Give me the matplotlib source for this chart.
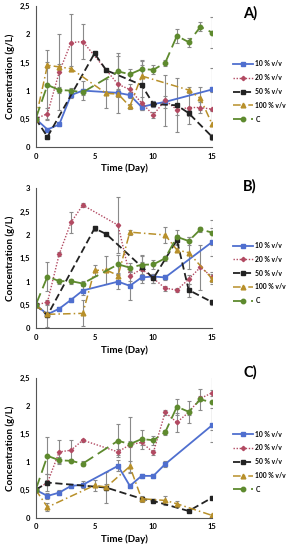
import matplotlib
matplotlib.use('Agg')
import matplotlib.pyplot as plt
from matplotlib.ticker import FuncFormatter, MultipleLocator

plt.rcParams['font.family'] = ['Lato', 'DejaVu Sans']
plt.rcParams['font.weight'] = 'bold'

LABELS = ['10 % v/v', '20 % v/v', '50 % v/v', '100 % v/v', 'C']

# ---- Panel A ----
A_10_days = [0, 1, 2, 3, 4, 7, 8, 9, 10, 11, 15]
A_10 = [0.5, 0.31, 0.40, 0.92, 1.0, 0.96, 0.92, 0.71, 0.76, 0.80, 1.02]
A_10_err = [0.02, 0.03, 0.03, 0.05, 0.17, 0.05, 0.05, 0.05, 0.05, 0.1, 0.38]
A_20_days = [0, 1, 2, 3, 4, 7, 8, 9, 10, 11, 12, 13, 14, 15]
A_20 = [0.5, 0.59, 1.33, 1.85, 1.87, 1.11, 1.02, 0.78, 0.57, 0.83, 0.66, 0.70, 0.70, 0.67]
A_20_err = [0.02, 0.1, 0.68, 0.5, 0.31, 0.5, 0.1, 0.1, 0.05, 0.45, 0.1, 0.3, 0.1, 0.3]
A_50_days = [0, 1, 5, 6, 9, 10, 12, 13, 15]
A_50 = [0.5, 0.18, 1.66, 1.36, 1.10, 0.76, 0.74, 0.60, 0.18]
A_50_err = [0.02, 0.03, 0.03, 0.03, 0.45, 0.05, 0.48, 0.05, 0.05]
A_100_days = [0, 1, 2, 3, 6, 7, 8, 9, 13, 14, 15]
A_100 = [0.5, 1.45, 1.42, 1.39, 0.95, 0.94, 0.72, 1.26, 1.01, 0.86, 0.40]
A_100_err = [0.02, 0.05, 0.05, 0.05, 0.25, 0.05, 0.05, 0.2, 0.05, 0.2, 0.25]
A_C_days = [0, 1, 2, 3, 4, 7, 8, 9, 10, 11, 12, 13, 14, 15]
A_C = [0.5, 1.10, 1.01, 1.0, 0.97, 1.34, 1.29, 1.38, 1.37, 1.49, 1.97, 1.86, 2.13, 2.03]
A_C_err = [0.02, 0.62, 0.05, 0.05, 0.05, 0.32, 0.1, 0.15, 0.08, 0.05, 0.13, 0.08, 0.08, 0.28]

# ---- Panel B ----
B_10_days = [0, 1, 2, 3, 4, 7, 8, 9, 10, 11, 15]
B_10 = [0.5, 0.30, 0.42, 0.61, 0.81, 1.0, 0.91, 1.09, 1.11, 1.09, 1.85]
B_10_err = [0.02, 0.03, 0.04, 0.04, 0.1, 0.15, 0.3, 0.05, 0.05, 0.05, 0.3]
B_20_days = [0, 1, 2, 3, 4, 7, 8, 9, 10, 11, 12, 13, 14, 15]
B_20 = [0.5, 0.56, 1.59, 2.27, 2.64, 2.21, 1.12, 1.27, 1.07, 0.86, 0.82, 1.05, 1.31, 1.10]
B_20_err = [0.02, 0.05, 0.05, 0.23, 0.05, 0.6, 0.1, 0.3, 0.1, 0.05, 0.05, 0.1, 0.48, 0.1]
B_50_days = [0, 1, 5, 6, 9, 10, 12, 13, 15]
B_50 = [0.5, 0.28, 2.14, 2.02, 1.32, 1.07, 1.89, 0.82, 0.56]
B_50_err = [0.02, 0.25, 0.05, 0.03, 0.1, 0.1, 0.1, 0.14, 0.05]
B_100_days = [0, 1, 4, 5, 6, 7, 8, 11, 12, 13, 15]
B_100 = [0.5, 0.30, 0.32, 1.24, 1.25, 1.13, 2.06, 2.0, 1.68, 1.62, 1.06]
B_100_err = [0.02, 0.05, 0.28, 0.12, 0.3, 0.05, 0.05, 0.18, 0.05, 0.34, 0.1]
B_C_days = [0, 1, 2, 3, 4, 7, 8, 9, 10, 11, 12, 13, 14, 15]
B_C = [0.5, 1.11, 1.01, 1.01, 0.96, 1.37, 1.30, 1.36, 1.37, 1.50, 1.96, 1.87, 2.12, 2.05]
B_C_err = [0.02, 0.32, 0.05, 0.05, 0.05, 0.2, 0.1, 0.2, 0.1, 0.05, 0.15, 0.08, 0.05, 0.27]

# ---- Panel C ----
C_10_days = [0, 1, 2, 3, 4, 7, 8, 9, 10, 11, 15]
C_10 = [0.5, 0.39, 0.45, 0.57, 0.59, 0.93, 0.57, 0.75, 0.75, 0.96, 1.66]
C_10_err = [0.02, 0.05, 0.05, 0.03, 0.06, 0.1, 0.03, 0.04, 0.04, 0.05, 0.3]
C_20_days = [0, 1, 2, 3, 4, 7, 8, 9, 10, 11, 12, 13, 14, 15]
C_20 = [0.5, 0.63, 1.18, 1.21, 1.39, 1.18, 1.31, 1.35, 1.17, 1.89, 1.71, 1.89, 2.14, 2.24]
C_20_err = [0.02, 0.15, 0.22, 0.18, 0.03, 0.05, 0.5, 0.05, 0.05, 0.05, 0.17, 0.05, 0.05, 0.05]
C_50_days = [0, 1, 6, 9, 10, 13, 15]
C_50 = [0.5, 0.63, 0.54, 0.34, 0.30, 0.12, 0.36]
C_50_err = [0.02, 0.05, 0.28, 0.03, 0.03, 0.02, 0.03]
C_100_days = [0, 1, 5, 6, 8, 9, 11, 12, 15]
C_100 = [0.5, 0.19, 0.58, 0.55, 0.92, 0.34, 0.31, 0.25, 0.04]
C_100_err = [0.02, 0.07, 0.1, 0.05, 0.1, 0.05, 0.08, 0.05, 0.02]
C_C_days = [0, 1, 2, 3, 4, 7, 8, 9, 10, 11, 12, 13, 14, 15]
C_C = [0.5, 1.11, 1.03, 1.02, 0.97, 1.38, 1.32, 1.41, 1.39, 1.53, 1.99, 1.90, 2.12, 2.07]
C_C_err = [0.02, 0.33, 0.05, 0.03, 0.04, 0.3, 0.05, 0.17, 0.08, 0.04, 0.14, 0.2, 0.18, 0.5]

STYLES = [
    dict(color='#4F6FCF', ls='-', marker='s', ms=3.2, lw=1.3),
    dict(color='#B24A62', ls=(0, (1, 1.2)), marker='D', ms=2.2, lw=1.0),
    dict(color='#222222', ls=(0, (4, 2)), marker='s', ms=3.2, lw=1.3),
    dict(color='#B8902A', ls=(0, (5, 2, 1, 2)), marker='^', ms=3.4, lw=1.1),
    dict(color='#5E8A2E', ls=(0, (7, 3)), marker='o', ms=3.2, lw=1.3),
]

panels = [
    ('A)', 2.5, [(A_10_days, A_10, A_10_err), (A_20_days, A_20, A_20_err), (A_50_days, A_50, A_50_err),
                 (A_100_days, A_100, A_100_err), (A_C_days, A_C, A_C_err)]),
    ('B)', 3.0, [(B_10_days, B_10, B_10_err), (B_20_days, B_20, B_20_err), (B_50_days, B_50, B_50_err),
                 (B_100_days, B_100, B_100_err), (B_C_days, B_C, B_C_err)]),
    ('C)', 2.5, [(C_10_days, C_10, C_10_err), (C_20_days, C_20, C_20_err), (C_50_days, C_50, C_50_err),
                 (C_100_days, C_100, C_100_err), (C_C_days, C_C, C_C_err)]),
]

# axes boxes in pixels: (top, bottom)
W, H = 288, 550
boxes = [(6, 147), (188.3, 328.3), (378.3, 517.7)]
tag_y = [13, 186, 372]
legend_y = [91.4, 273, 461.7]
x_left, x_right = 35.7, 212.2

comma_fmt = FuncFormatter(lambda v, p: f'{v:g}'.replace('.', ','))

fig = plt.figure(figsize=(W / 100, H / 100), dpi=100)
for i, (tag, ymax, series) in enumerate(panels):
    top, bot = boxes[i]
    ax = fig.add_axes([x_left / W, 1 - bot / H, (x_right - x_left) / W, (bot - top) / H])
    handles = []
    for (days, vals, err), st, lab in zip(series, STYLES, LABELS):
        ax.errorbar(days, vals, yerr=err, fmt='none', ecolor='#8a8a8a', elinewidth=0.8,
                    capsize=1.5, capthick=0.8, zorder=1)
        h, = ax.plot(days, vals, label=lab, zorder=2, **st)
        handles.append(h)
    ax.set_xlim(0, 15)
    ax.set_ylim(0, ymax)
    ax.xaxis.set_major_locator(MultipleLocator(5))
    ax.yaxis.set_major_locator(MultipleLocator(0.5))
    ax.yaxis.set_major_formatter(comma_fmt)
    ax.tick_params(length=0, labelsize=5.5, pad=4)
    for s in ('top', 'right'):
        ax.spines[s].set_visible(False)
    for s in ('left', 'bottom'):
        ax.spines[s].set_color('#555555')
        ax.spines[s].set_linewidth(0.8)
    ax.set_ylabel('Concentration (g/L)', fontsize=7, fontweight='bold', labelpad=3)
    ax.set_xlabel('Time (Day)', fontsize=7, fontweight='bold', labelpad=3)
    fig.text(250 / W, 1 - tag_y[i] / H, tag, fontsize=10.5, fontweight='bold', ha='center', va='center')
    fig.legend(handles=handles, loc='center left', bbox_to_anchor=(233 / W, 1 - legend_y[i] / H),
               frameon=False, fontsize=4.9, handlelength=3.0, handletextpad=0.3,
               labelspacing=1.0, borderpad=0, borderaxespad=0)

fig.savefig('out.png', dpi=100)
